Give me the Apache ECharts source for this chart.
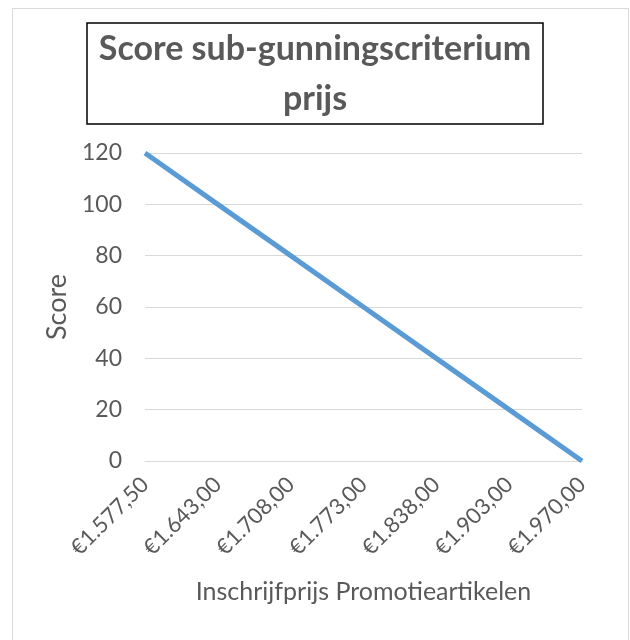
<!DOCTYPE html>
<html>
<head>
<meta charset="utf-8">
<script src="https://cdn.jsdelivr.net/npm/echarts@6/dist/echarts.min.js"></script>
<style>
    html, body { margin: 0; padding: 0; background: #fff; }
    #scoreChart { width: 630px; height: 640px; }
</style>
</head>
<body>
<div id="scoreChart"></div>
<script>
// inschrijfprijzen (x-as)
var prijzen = ['€1.577,50', '€1.643,00', '€1.708,00', '€1.773,00', '€1.838,00', '€1.903,00', '€1.970,00'];
// score per prijs
var scores = [120, 100, 80, 60, 40, 20, 0];
var yTicks = {min: 0, max: 120, interval: 20};

var tekstKleur = '#595959';
var fontNaam = 'Lato, "Liberation Sans", sans-serif';

var myChart = echarts.init(document.getElementById('scoreChart'));
myChart.setOption({
    backgroundColor: '#fff',
    graphic: [{
        type: 'rect',
        shape: {x: 12.5, y: 8.5, width: 616, height: 660},
        style: {fill: 'none', stroke: '#d9d9d9', lineWidth: 1},
        silent: true
    }],
    title: {
        text: 'Score sub-gunningscriterium\nprijs',
        left: 'center',
        top: 23,
        padding: [1, 12, 0, 12],
        borderColor: '#000',
        borderWidth: 1.5,
        textStyle: {
            color: tekstKleur,
            fontFamily: fontNaam,
            fontWeight: 'bold',
            fontSize: 34,
            lineHeight: 50
        }
    },
    grid: {
        left: 145,
        right: 48,
        top: 153,
        bottom: 179
    },
    xAxis: {
        type: 'category',
        data: prijzen,
        boundaryGap: false,
        name: 'Inschrijfprijs Promotieartikelen',
        nameLocation: 'middle',
        nameGap: 118,
        nameTextStyle: {color: tekstKleur, fontFamily: fontNaam, fontSize: 25},
        axisLine: {lineStyle: {color: '#d9d9d9', width: 1}},
        axisTick: {show: false},
        axisLabel: {
            rotate: 45,
            margin: 20,
            color: tekstKleur,
            fontFamily: fontNaam,
            fontSize: 22
        }
    },
    yAxis: {
        type: 'value',
        min: yTicks.min,
        max: yTicks.max,
        interval: yTicks.interval,
        name: 'Score',
        nameLocation: 'middle',
        nameGap: 64,
        nameTextStyle: {color: tekstKleur, fontFamily: fontNaam, fontSize: 27},
        axisLine: {show: false},
        axisTick: {show: false},
        axisLabel: {margin: 23, color: tekstKleur, fontFamily: fontNaam, fontSize: 23},
        splitLine: {lineStyle: {color: '#d9d9d9', width: 1}}
    },
    series: [{
        name: 'Score',
        type: 'line',
        data: scores,
        symbol: 'none',
        lineStyle: {color: '#5b9bd5', width: 5, cap: 'butt'},
        itemStyle: {color: '#5b9bd5'}
    }]
});
</script>
</body>
</html>
